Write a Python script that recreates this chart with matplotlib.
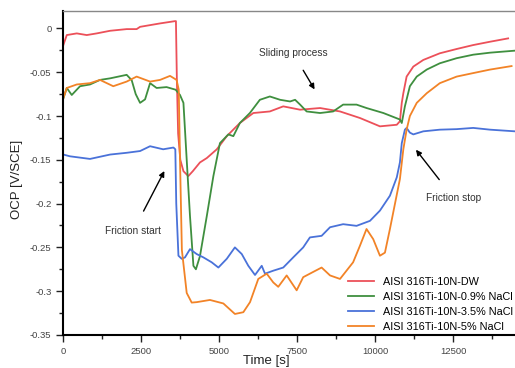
import matplotlib
matplotlib.use("Agg")
import matplotlib.pyplot as plt
from matplotlib.ticker import MultipleLocator

plt.rcParams['font.family'] = ['Liberation Sans', 'DejaVu Sans']

labels = ["AISI 316Ti-10N-DW", "AISI 316Ti-10N-0.9% NaCl",
          "AISI 316Ti-10N-3.5% NaCl", "AISI 316Ti-10N-5% NaCl"]
colors = ["#ec5059", "#3f8f3f", "#4a72d9", "#f28327"]

t_dw = [0, 110, 430, 750, 1070, 1500, 2030, 2350, 2460, 3100, 3580, 3610, 3640, 3680, 3750,
        3850, 4006, 4150, 4380, 4600, 4920, 5240, 5660, 6090, 6620, 7050, 7590, 8230, 8870,
        9510, 10150, 10690, 10790, 10850, 10900, 11005, 11220, 11540, 12070, 12610, 13140,
        13680, 14260]
v_dw = [-0.019, -0.0076, -0.0057, -0.0076, -0.0057, -0.0027, -0.0008, -0.0008, 0.0018, 0.0057,
        0.0083, 0.0083, -0.06, -0.12, -0.15, -0.163, -0.1686, -0.163, -0.153, -0.148, -0.138,
        -0.123, -0.108, -0.0966, -0.0948, -0.089, -0.0928, -0.0909, -0.0948, -0.1023, -0.1118,
        -0.110, -0.106, -0.085, -0.074, -0.055, -0.0436, -0.036, -0.0284, -0.0235, -0.019,
        -0.0152, -0.0114]

t_09 = [0, 110, 270, 535, 855, 1175, 1500, 2030, 2190, 2320, 2460, 2620, 2780, 2990, 3310, 3600,
        3740, 3850, 3955, 4060, 4170, 4250, 4380, 4600, 4810, 4970, 5020, 5290, 5450, 5660,
        5980, 6300, 6620, 6950, 7270, 7430, 7590, 7800, 8230, 8650, 8970, 9400, 9720, 10260,
        10790, 10850, 10950, 11110, 11330, 11650, 12070, 12610, 13140, 13680, 14480]
v_09 = [-0.08, -0.068, -0.076, -0.066, -0.064, -0.0588, -0.057, -0.053, -0.059, -0.075, -0.085,
        -0.081, -0.0625, -0.068, -0.067, -0.070, -0.076, -0.085, -0.15, -0.214, -0.271,
        -0.275, -0.26, -0.214, -0.1686, -0.14, -0.131, -0.121, -0.123, -0.108, -0.0966,
        -0.0815, -0.0777, -0.0815, -0.0834, -0.0815, -0.087, -0.0948, -0.0966, -0.0948,
        -0.087, -0.087, -0.0909, -0.0966, -0.104, -0.108, -0.089, -0.066, -0.055, -0.047,
        -0.0398, -0.034, -0.030, -0.0277, -0.0254]

t_35 = [0, 210, 855, 1500, 2030, 2460, 2780, 3200, 3530, 3590, 3620, 3690, 3795, 3900, 4060,
        4275, 4490, 4755, 4970, 5240, 5500, 5720, 5930, 6145, 6360, 6465, 6730, 7050, 7370,
        7690, 7905, 8280, 8550, 8970, 9400, 9830, 10150, 10470, 10690, 10790, 10850, 10950,
        11005, 11110, 11220, 11540, 12070, 12610, 13140, 13680, 14480]
v_35 = [-0.144, -0.146, -0.149, -0.144, -0.142, -0.140, -0.1345, -0.138, -0.136, -0.138,
        -0.2, -0.2595, -0.263, -0.2614, -0.252, -0.2576, -0.2614, -0.267, -0.273, -0.263,
        -0.25, -0.2576, -0.271, -0.2815, -0.271, -0.280, -0.2766, -0.273, -0.2614, -0.25,
        -0.2386, -0.2368, -0.227, -0.2235, -0.2254, -0.2197, -0.208, -0.191, -0.170, -0.153,
        -0.131, -0.1156, -0.1136, -0.119, -0.121, -0.1175, -0.1156, -0.115, -0.1136, -0.1156,
        -0.1175]

t_5 = [0, 110, 430, 855, 1175, 1600, 2030, 2350, 2780, 3100, 3420, 3630, 3700, 3740, 3800,
       3955, 4115, 4275, 4700, 5130, 5500, 5770, 5985, 6250, 6520, 6730, 6890, 7160, 7480,
       7690, 8010, 8280, 8550, 8870, 9290, 9510, 9720, 9935, 10150, 10310, 10470, 10790,
       10900, 11005, 11110, 11330, 11650, 12070, 12610, 13140, 13680, 14370]
v_5 = [-0.0795, -0.068, -0.064, -0.0625, -0.0588, -0.066, -0.0607, -0.055, -0.0607, -0.0588,
       -0.0542, -0.0588, -0.07, -0.15, -0.253, -0.302, -0.313, -0.3125, -0.31, -0.314,
       -0.326, -0.324, -0.3125, -0.286, -0.280, -0.29, -0.295, -0.282, -0.299, -0.284,
       -0.278, -0.273, -0.282, -0.286, -0.267, -0.248, -0.229, -0.2406, -0.2595, -0.256,
       -0.229, -0.172, -0.138, -0.1156, -0.1, -0.085, -0.074, -0.0625, -0.055, -0.051,
       -0.047, -0.043]

series = [(t_dw, v_dw), (t_09, v_09), (t_35, v_35), (t_5, v_5)]

fig = plt.figure(figsize=(5.15, 3.68), dpi=100)
ax = fig.add_axes([0.123, 0.0897, 0.877, 0.880])

for (t, v), c, lab in zip(series, colors, labels):
    ax.plot(t, v, color=c, lw=1.3, label=lab)

ax.set_xlim(0, 14480)
ax.set_ylim(-0.35, 0.0197)
ax.xaxis.set_major_locator(MultipleLocator(2500))
ax.xaxis.set_minor_locator(MultipleLocator(1250))
ax.yaxis.set_major_locator(MultipleLocator(0.05))
ax.yaxis.set_minor_locator(MultipleLocator(0.025))
ax.set_yticks([0, -0.05, -0.1, -0.15, -0.2, -0.25, -0.3, -0.35])
ax.set_yticklabels(["0", "-0.05", "-0.1", "-0.15", "-0.2", "-0.25", "-0.3", "-0.35"])
ax.tick_params(which='major', direction='out', length=5, width=1, labelsize=6.8,
               labelcolor='#444444', color='#222222')
ax.tick_params(which='minor', direction='out', length=3, width=1, color='#222222')

ax.spines['right'].set_visible(False)
ax.spines['top'].set_color('#888888')
ax.spines['top'].set_linewidth(1.0)
ax.spines['left'].set_linewidth(1.5)
ax.spines['bottom'].set_linewidth(1.5)

ax.set_xlabel("Time [s]", fontsize=9.5, color='#222222')
ax.xaxis.set_label_coords(0.449, -0.062)
ax.set_ylabel("OCP [V/SCE]", fontsize=9.5, color='#222222')
ax.yaxis.set_label_coords(-0.09, 0.48)

arrow = dict(arrowstyle='-|>', color='black', lw=1.0, mutation_scale=8)
ax.annotate("Sliding process", xy=(8100, -0.0724), xytext=(7360, -0.028),
            fontsize=7.3, color='#333333', ha='center', va='center',
            arrowprops=dict(arrow, shrinkA=8))
ax.annotate("Friction start", xy=(3280, -0.16), xytext=(2237, -0.2315),
            fontsize=7.3, color='#333333', ha='center', va='center',
            arrowprops=dict(arrow, shrinkA=10))
ax.annotate("Friction stop", xy=(11250, -0.136), xytext=(12520, -0.194),
            fontsize=7.3, color='#333333', ha='center', va='center',
            arrowprops=dict(arrow, shrinkA=10))

ax.legend(loc='lower right', bbox_to_anchor=(1.01, -0.01), frameon=False, fontsize=7.8,
          handlelength=2.4, handletextpad=0.8, labelspacing=0.45, borderaxespad=0.2)

fig.savefig("out.png", dpi=100)
